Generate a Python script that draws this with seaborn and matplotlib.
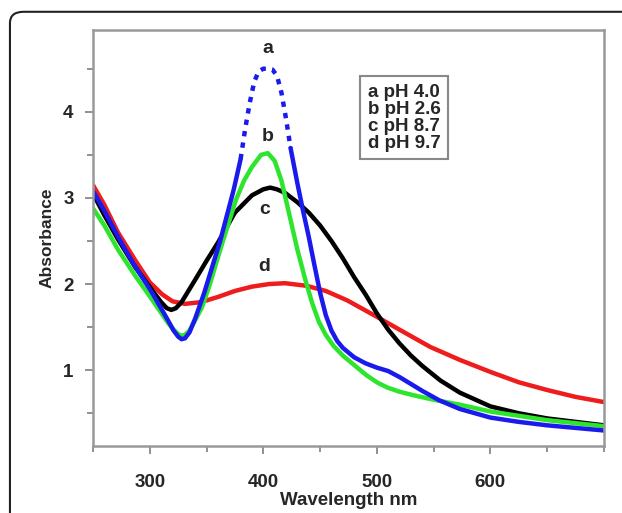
import numpy as np
import pandas as pd
import matplotlib
matplotlib.use("Agg")
import matplotlib.pyplot as plt
import seaborn as sns
from matplotlib.patches import FancyBboxPatch
from matplotlib.ticker import MultipleLocator

# curve a (pH 4.0) - solid parts and the saturated dotted peak
a_nm_left = [250, 260, 272, 285, 302, 316, 321, 325, 328, 331, 335, 340, 348, 355, 362, 368, 374, 380]
a_abs_left = [3.08, 2.85, 2.55, 2.25, 1.90, 1.58, 1.46, 1.39, 1.36, 1.37, 1.44, 1.60, 1.90, 2.20, 2.50, 2.80, 3.10, 3.45]
a_nm_peak = [380, 384, 388, 392, 396, 400, 404, 408, 412, 416, 420, 424]
a_abs_peak = [3.45, 3.80, 4.10, 4.35, 4.47, 4.50, 4.50, 4.49, 4.42, 4.22, 3.92, 3.58]
a_nm_right = [424, 430, 435, 440, 445, 450, 455, 460, 465, 470, 480, 490, 500, 510,
              520, 530, 540, 555, 573, 600, 625, 650, 675, 700]
a_abs_right = [3.58, 3.17, 2.85, 2.55, 2.22, 1.90, 1.64, 1.46, 1.34, 1.26, 1.15, 1.08, 1.03, 0.99,
               0.92, 0.84, 0.76, 0.65, 0.55, 0.45, 0.40, 0.36, 0.33, 0.30]

# curve b (pH 2.6)
b_nm = [250, 260, 272, 287, 302, 316, 321, 325, 328, 331, 335, 340, 346, 353, 360, 368, 376, 383, 390, 398, 404,
        410, 416, 422, 430, 437, 443, 449, 455, 462, 470, 480, 491, 500, 509, 520, 532, 549, 573,
        600, 650, 700]
b_abs = [2.88, 2.68, 2.40, 2.10, 1.82, 1.55, 1.47, 1.42, 1.40, 1.41, 1.46, 1.58, 1.73, 2.00, 2.31, 2.65, 2.98, 3.20, 3.36, 3.50, 3.52,
         3.43, 3.20, 2.86, 2.40, 2.05, 1.78, 1.56, 1.41, 1.28, 1.17, 1.06, 0.94, 0.86, 0.80, 0.75, 0.71, 0.66, 0.60,
         0.52, 0.42, 0.35]

# curve c (pH 8.7)
c_nm = [250, 260, 272, 287, 302, 310, 315, 319, 323, 328, 334, 340, 350, 360, 375, 390, 400, 406, 412, 419,
        430, 440, 450, 460, 470, 480, 490, 500, 510, 520, 530, 540, 556, 573, 600, 625, 650, 675, 700]
c_abs = [3.05, 2.80, 2.52, 2.20, 1.93, 1.79, 1.72, 1.70, 1.72, 1.79, 1.92, 2.05, 2.27, 2.48, 2.83, 3.03, 3.10, 3.12, 3.10, 3.06,
         2.95, 2.83, 2.68, 2.50, 2.30, 2.08, 1.88, 1.66, 1.47, 1.31, 1.17, 1.05, 0.88, 0.74, 0.58, 0.50, 0.44, 0.40, 0.36]

# curve d (pH 9.7)
d_nm = [250, 260, 272, 287, 300, 311, 320, 331, 345, 360, 375, 390, 405, 419, 438,
        455, 474, 500, 520, 547, 573, 600, 625, 650, 675, 700]
d_abs = [3.15, 2.92, 2.60, 2.28, 2.02, 1.88, 1.80, 1.77, 1.79, 1.85, 1.92, 1.97, 2.00, 2.01, 1.98,
         1.92, 1.81, 1.62, 1.47, 1.27, 1.12, 0.98, 0.86, 0.77, 0.69, 0.63]

legend_lines = ["a pH 4.0", "b pH 2.6", "c pH 8.7", "d pH 9.7"]
curve_labels = ["a", "b", "c", "d"]
label_nm = [404, 404, 401, 401]
label_abs = [4.74, 3.71, 2.86, 2.20]

sns.set_style("ticks")
plt.rcParams['font.family'] = ['Liberation Sans', 'DejaVu Sans']
plt.rcParams['font.weight'] = 'bold'

fig = plt.figure(figsize=(6.22, 5.13), dpi=100)
ax = fig.add_axes([0.1495, 0.1306, 0.8215, 0.811])

lw = 3.2
blue = "#1a1aef"
green = "#2ee52e"
red = "#ee1c1c"

sns.lineplot(x=d_nm, y=d_abs, ax=ax, color=red, lw=lw, sort=False)
sns.lineplot(x=c_nm, y=c_abs, ax=ax, color="black", lw=lw, sort=False)
sns.lineplot(x=b_nm, y=b_abs, ax=ax, color=green, lw=lw, sort=False)
sns.lineplot(x=a_nm_left, y=a_abs_left, ax=ax, color=blue, lw=lw, sort=False)
sns.lineplot(x=a_nm_right, y=a_abs_right, ax=ax, color=blue, lw=lw, sort=False)
sns.lineplot(x=a_nm_peak, y=a_abs_peak, ax=ax, color=blue, lw=lw, sort=False,
             linestyle=(0, (1.2, 1.4)))

for lab, xn, ya in zip(curve_labels, label_nm, label_abs):
    ax.text(xn, ya, lab, ha="center", va="center", fontsize=14, fontweight="bold")

ax.text(524, 3.93, "\n".join(legend_lines), ha="center", va="center",
        fontsize=13.5, fontweight="bold", linespacing=1.0,
        bbox=dict(boxstyle="square,pad=0.4", fc="white", ec="#888888", lw=1.5))

ax.set_xlim(250, 700)
ax.set_ylim(0.12, 4.95)
ax.set_xticks([300, 400, 500, 600])
ax.set_yticks([1, 2, 3, 4])
ax.xaxis.set_minor_locator(MultipleLocator(50))
ax.yaxis.set_minor_locator(MultipleLocator(0.5))
ax.tick_params(which="major", length=6, width=1.3, color="#888888", labelsize=13.5)
ax.tick_params(which="minor", length=4, width=1.3, color="#888888")
ax.tick_params(axis="x", which="major", pad=14)
ax.tick_params(axis="y", which="major", pad=8)
for lab in ax.get_xticklabels() + ax.get_yticklabels():
    lab.set_fontweight("bold")

for s in ax.spines.values():
    s.set_color("#999999")
    s.set_linewidth(1.8)

ax.set_xlabel("Wavelength nm", fontsize=13.5, fontweight="bold", labelpad=1)
ax.set_ylabel("Absorbance", fontsize=12.5, fontweight="bold", labelpad=6)

frame = FancyBboxPatch((0.016, -0.2), 1.2, 0.2 + 0.977,
                       boxstyle="round,pad=0,rounding_size=0.022",
                       transform=fig.transFigure, fill=False, ec="#222222", lw=1.5)
fig.add_artist(frame)

fig.savefig("out.png", dpi=100)
